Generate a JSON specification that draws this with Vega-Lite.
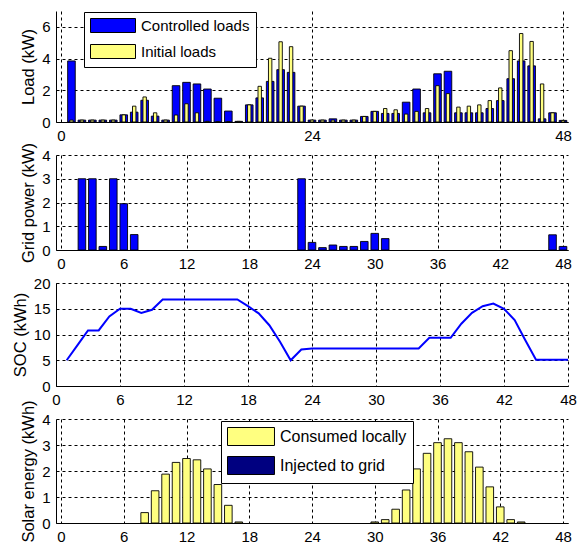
{
  "$schema": "https://vega.github.io/schema/vega-lite/v6.json",
  "padding": {"left": 12, "top": 11, "right": 4, "bottom": 4},
  "background": "white",
  "bounds": "flush",
  "spacing": 33,
  "resolve": {"scale": {"x": "independent", "y": "independent", "color": "independent"}},
  "config": {
    "font": "Liberation Sans",
    "view": {"stroke": null},
    "axis": {
      "labelFont": "Liberation Sans",
      "labelFontSize": 15,
      "labelColor": "black",
      "titleFont": "Liberation Sans",
      "titleFontSize": 16.5,
      "titleFontWeight": "normal",
      "titleColor": "black",
      "titlePadding": 5,
      "domainColor": "black",
      "domainWidth": 1,
      "grid": true,
      "gridColor": "black",
      "gridDash": [3, 3],
      "gridOpacity": 1,
      "gridWidth": 1,
      "ticks": false,
      "labelPadding": 6,
      "labelFlush": false
    },
    "legend": {
      "orient": "none",
      "title": null,
      "labelFont": "Liberation Sans",
      "labelFontSize": 15,
      "labelColor": "black",
      "symbolStrokeColor": "black",
      "symbolStrokeWidth": 1,
      "symbolOpacity": 1,
      "strokeColor": "black",
      "fillColor": "white",
      "padding": 6
    }
  },
  "datasets": {
    "load": [
      {"hour": 1, "controlled": 3.85, "initial": 0.12},
      {"hour": 2, "controlled": 0.12, "initial": 0.12},
      {"hour": 3, "controlled": 0.12, "initial": 0.12},
      {"hour": 4, "controlled": 0.12, "initial": 0.12},
      {"hour": 5, "controlled": 0.12, "initial": 0.12},
      {"hour": 6, "controlled": 0.45, "initial": 0.45},
      {"hour": 7, "controlled": 0.62, "initial": 1.0},
      {"hour": 8, "controlled": 1.37, "initial": 1.58},
      {"hour": 9, "controlled": 0.37, "initial": 0.58},
      {"hour": 10, "controlled": 0.12, "initial": 0.12},
      {"hour": 11, "controlled": 2.29, "initial": 0.44},
      {"hour": 12, "controlled": 2.5, "initial": 1.15},
      {"hour": 13, "controlled": 2.4, "initial": 0.58},
      {"hour": 14, "controlled": 2.08, "initial": 0.04},
      {"hour": 15, "controlled": 1.5, "initial": 0.02},
      {"hour": 16, "controlled": 0.69, "initial": 0.02},
      {"hour": 17, "controlled": 0.04, "initial": 0.04},
      {"hour": 18, "controlled": 1.08, "initial": 1.08},
      {"hour": 19, "controlled": 1.52, "initial": 2.25},
      {"hour": 20, "controlled": 2.56, "initial": 4.02},
      {"hour": 21, "controlled": 3.3, "initial": 5.06},
      {"hour": 22, "controlled": 3.13, "initial": 4.75},
      {"hour": 23, "controlled": 1.0, "initial": 1.0},
      {"hour": 24, "controlled": 0.12, "initial": 0.12},
      {"hour": 25, "controlled": 0.12, "initial": 0.12},
      {"hour": 26, "controlled": 0.2, "initial": 0.12},
      {"hour": 27, "controlled": 0.12, "initial": 0.12},
      {"hour": 28, "controlled": 0.12, "initial": 0.12},
      {"hour": 29, "controlled": 0.35, "initial": 0.35},
      {"hour": 30, "controlled": 0.67, "initial": 0.67},
      {"hour": 31, "controlled": 0.54, "initial": 0.85},
      {"hour": 32, "controlled": 0.54, "initial": 0.77},
      {"hour": 33, "controlled": 1.25, "initial": 0.5},
      {"hour": 34, "controlled": 2.08, "initial": 0.67},
      {"hour": 35, "controlled": 0.58, "initial": 0.85},
      {"hour": 36, "controlled": 3.04, "initial": 2.29},
      {"hour": 37, "controlled": 3.2, "initial": 1.79},
      {"hour": 38, "controlled": 0.58, "initial": 0.94},
      {"hour": 39, "controlled": 0.58, "initial": 1.0},
      {"hour": 40, "controlled": 0.58, "initial": 1.08},
      {"hour": 41, "controlled": 0.85, "initial": 1.35},
      {"hour": 42, "controlled": 1.35, "initial": 2.15},
      {"hour": 43, "controlled": 2.73, "initial": 4.5},
      {"hour": 44, "controlled": 3.85, "initial": 5.58},
      {"hour": 45, "controlled": 3.54, "initial": 5.08},
      {"hour": 46, "controlled": 0.2, "initial": 2.4},
      {"hour": 47, "controlled": 0.58, "initial": 0.58},
      {"hour": 48, "controlled": 0.1, "initial": 0.1}
    ],
    "grid": [
      {"hour": 2, "power": 3.0},
      {"hour": 3, "power": 3.0},
      {"hour": 4, "power": 0.15},
      {"hour": 5, "power": 3.0},
      {"hour": 6, "power": 1.95},
      {"hour": 7, "power": 0.65},
      {"hour": 23, "power": 3.0},
      {"hour": 24, "power": 0.32},
      {"hour": 25, "power": 0.1},
      {"hour": 26, "power": 0.21},
      {"hour": 27, "power": 0.15},
      {"hour": 28, "power": 0.15},
      {"hour": 29, "power": 0.36},
      {"hour": 30, "power": 0.7},
      {"hour": 31, "power": 0.48},
      {"hour": 47, "power": 0.64},
      {"hour": 48, "power": 0.15}
    ],
    "soc": [
      {"hour": 1, "soc": 5.0},
      {"hour": 2, "soc": 7.9},
      {"hour": 3, "soc": 10.8},
      {"hour": 4, "soc": 10.8},
      {"hour": 5, "soc": 13.5},
      {"hour": 6, "soc": 15.0},
      {"hour": 7, "soc": 15.0},
      {"hour": 8, "soc": 14.2},
      {"hour": 9, "soc": 14.8},
      {"hour": 10, "soc": 16.8},
      {"hour": 11, "soc": 16.8},
      {"hour": 12, "soc": 16.8},
      {"hour": 13, "soc": 16.8},
      {"hour": 14, "soc": 16.8},
      {"hour": 15, "soc": 16.8},
      {"hour": 16, "soc": 16.8},
      {"hour": 17, "soc": 16.8},
      {"hour": 18, "soc": 15.5},
      {"hour": 19, "soc": 14.1},
      {"hour": 20, "soc": 11.8},
      {"hour": 21, "soc": 8.6},
      {"hour": 22, "soc": 5.0},
      {"hour": 23, "soc": 7.1},
      {"hour": 24, "soc": 7.3},
      {"hour": 25, "soc": 7.3},
      {"hour": 26, "soc": 7.3},
      {"hour": 27, "soc": 7.3},
      {"hour": 28, "soc": 7.3},
      {"hour": 29, "soc": 7.3},
      {"hour": 30, "soc": 7.3},
      {"hour": 31, "soc": 7.3},
      {"hour": 32, "soc": 7.3},
      {"hour": 33, "soc": 7.3},
      {"hour": 34, "soc": 7.3},
      {"hour": 35, "soc": 9.35},
      {"hour": 36, "soc": 9.35},
      {"hour": 37, "soc": 9.35},
      {"hour": 38, "soc": 12.1},
      {"hour": 39, "soc": 14.2},
      {"hour": 40, "soc": 15.5},
      {"hour": 41, "soc": 16.0},
      {"hour": 42, "soc": 15.0},
      {"hour": 43, "soc": 12.8},
      {"hour": 44, "soc": 8.9},
      {"hour": 45, "soc": 5.1},
      {"hour": 46, "soc": 5.1},
      {"hour": 47, "soc": 5.1},
      {"hour": 48, "soc": 5.1}
    ],
    "solar": [
      {"hour": 8, "consumed": 0.4},
      {"hour": 9, "consumed": 1.24},
      {"hour": 10, "consumed": 1.88},
      {"hour": 11, "consumed": 2.33},
      {"hour": 12, "consumed": 2.48},
      {"hour": 13, "consumed": 2.43},
      {"hour": 14, "consumed": 2.08},
      {"hour": 15, "consumed": 1.48},
      {"hour": 16, "consumed": 0.68},
      {"hour": 17, "consumed": 0.04},
      {"hour": 30, "consumed": 0.04},
      {"hour": 31, "consumed": 0.13},
      {"hour": 32, "consumed": 0.53},
      {"hour": 33, "consumed": 1.27},
      {"hour": 34, "consumed": 2.08},
      {"hour": 35, "consumed": 2.68},
      {"hour": 36, "consumed": 3.09},
      {"hour": 37, "consumed": 3.24},
      {"hour": 38, "consumed": 3.09},
      {"hour": 39, "consumed": 2.74},
      {"hour": 40, "consumed": 2.15},
      {"hour": 41, "consumed": 1.39},
      {"hour": 42, "consumed": 0.62},
      {"hour": 43, "consumed": 0.13},
      {"hour": 44, "consumed": 0.04}
    ]
  },
  "vconcat": [
    {
      "width": 512,
      "height": 111,
      "data": {"name": "load"},
      "layer": [
        {
          "mark": {"type": "bar", "orient": "vertical", "width": 7.6, "stroke": "black", "strokeWidth": 0.9},
          "encoding": {
            "x": {"field": "hour", "type": "quantitative", "scale": {"domain": [0, 48], "nice": false}, "axis": {"values": [0, 24, 48], "title": null}},
            "y": {"field": "controlled", "type": "quantitative", "stack": null, "scale": {"domain": [0, 7], "nice": false}, "axis": {"values": [0, 2, 4, 6], "title": "Load (kW)"}},
            "color": {
              "datum": "Controlled loads",
              "scale": {"domain": ["Controlled loads", "Initial loads"], "range": ["#0000ff", "#ffff80"]},
              "legend": {"legendX": 28, "legendY": 1, "symbolType": "M-1,-1H5.43V1H-1Z", "symbolSize": 196, "labelOffset": 36, "rowPadding": 7}
            }
          }
        },
        {
          "mark": {"type": "bar", "orient": "vertical", "width": 3.4, "stroke": "black", "strokeWidth": 0.9},
          "encoding": {
            "x": {"field": "hour", "type": "quantitative"},
            "y": {"field": "initial", "type": "quantitative", "stack": null, "axis": {"values": [0, 2, 4, 6], "title": "Load (kW)"}},
            "color": {"datum": "Initial loads"}
          }
        }
      ]
    },
    {
      "width": 512,
      "height": 95,
      "data": {"name": "grid"},
      "mark": {"type": "bar", "orient": "vertical", "width": 7.6, "fill": "#0000ff", "stroke": "black", "strokeWidth": 0.9},
      "encoding": {
        "x": {"field": "hour", "type": "quantitative", "scale": {"domain": [0, 48], "nice": false}, "axis": {"values": [0, 6, 12, 18, 24, 30, 36, 42, 48], "title": null}},
        "y": {"field": "power", "type": "quantitative", "scale": {"domain": [0, 4], "nice": false}, "axis": {"values": [0, 1, 2, 3, 4], "title": "Grid power (kW)"}}
      }
    },
    {
      "width": 512,
      "height": 103,
      "data": {"name": "soc"},
      "mark": {"type": "line", "color": "#0000ff", "strokeWidth": 2},
      "encoding": {
        "x": {"field": "hour", "type": "quantitative", "scale": {"domain": [0, 48], "nice": false}, "axis": {"values": [0, 6, 12, 18, 24, 30, 36, 42, 48], "title": null}},
        "y": {"field": "soc", "type": "quantitative", "scale": {"domain": [0, 20], "nice": false}, "axis": {"values": [0, 5, 10, 15, 20], "title": "SOC (kWh)"}}
      }
    },
    {
      "width": 512,
      "height": 104,
      "data": {"name": "solar"},
      "mark": {"type": "bar", "orient": "vertical", "width": 7.6, "stroke": "black", "strokeWidth": 0.9},
      "encoding": {
        "x": {"field": "hour", "type": "quantitative", "scale": {"domain": [0, 48], "nice": false}, "axis": {"values": [0, 6, 12, 18, 24, 30, 36, 42, 48], "title": null}},
        "y": {"field": "consumed", "type": "quantitative", "stack": null, "scale": {"domain": [0, 4], "nice": false}, "axis": {"values": [0, 1, 2, 3, 4], "title": "Solar energy (kWh)"}},
        "color": {
          "datum": "Consumed locally",
          "scale": {"domain": ["Consumed locally", "Injected to grid"], "range": ["#ffff80", "#000080"]},
          "legend": {"legendX": 165, "legendY": 2, "symbolType": "M-1,-1H4.22V1H-1Z", "symbolSize": 324, "labelOffset": 34, "labelFontSize": 16, "rowPadding": 6}
        }
      }
    }
  ]
}
